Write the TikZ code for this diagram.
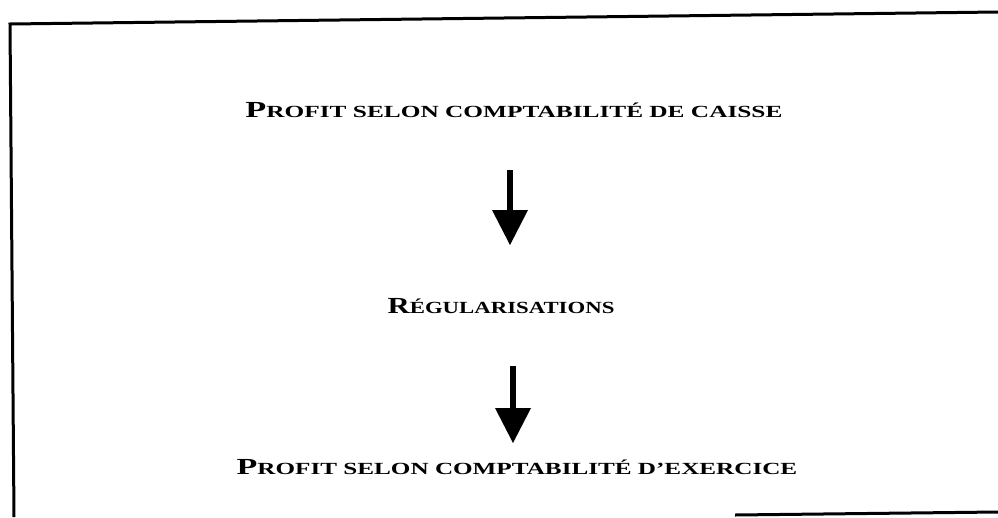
\documentclass[tikz,border=0pt]{standalone}
\usepackage{graphicx}
\usepackage{fontspec}
\setmainfont{Liberation Serif}
\usetikzlibrary{arrows.meta}
\newcommand\capbig[1]{{\fontsize{23}{24}\selectfont #1}}
\newcommand\capsmall[1]{{\fontsize{17}{18}\selectfont #1}}
\begin{document}
\begin{tikzpicture}[x=1pt,y=-1pt,
  label/.style={anchor=base,inner sep=0pt,font=\bfseries},
  flowarrow/.style={line width=6pt,line cap=butt,
    -{Triangle[length=35pt,width=36pt,line width=0pt]}},
  frameline/.style={line width=3pt}]
\useasboundingbox (0,0) rectangle (998,517);
% frame
\coordinate (ftl) at (10,24);
\coordinate (ftr) at (998,12);
\coordinate (fbl) at (14,517);
\coordinate (fbs) at (735,515);
\coordinate (fbe) at (998,512);
\draw[frameline] (fbl) -- (ftl) -- (ftr);
\draw[frameline] (fbs) -- (fbe);
% texts
\node[label] (t1) at (514,117) {\scalebox{1.49}[1]{\capbig{P}\capsmall{ROFIT SELON COMPTABILITÉ DE CAISSE}}};
\node[label] (t2) at (501,313) {\scalebox{1.34}[1]{\capbig{R}\capsmall{ÉGULARISATIONS}}};
\node[label] (t3) at (517,474) {\scalebox{1.48}[1]{\capbig{P}\capsmall{ROFIT SELON COMPTABILITÉ D’EXERCICE}}};
% arrows
\coordinate (a1s) at (510,170);
\coordinate (a1e) at (510,245);
\coordinate (a2s) at (513,366);
\coordinate (a2e) at (513,443);
\draw[flowarrow] (a1s) -- (a1e);
\draw[flowarrow] (a2s) -- (a2e);
\end{tikzpicture}
\end{document}
